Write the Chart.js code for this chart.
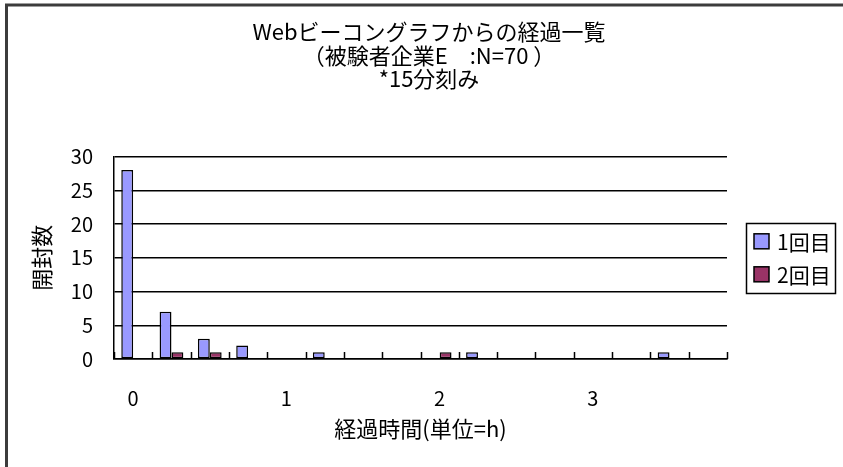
<!DOCTYPE html>
<html lang="ja">
<head>
<meta charset="utf-8">
<title>Webビーコングラフからの経過一覧</title>
<script src="https://cdn.jsdelivr.net/npm/chart.js@4"></script>
<style>
    html, body { margin: 0; padding: 0; background: #fff; }
    #wrap { width: 843px; height: 467px; position: relative; }
</style>
</head>
<body>
<div id="wrap"><canvas id="beaconChart"></canvas></div>
<script>
// elapsed time since the web beacon, 15 minute bins (hours)
var categories = ['0', '0.25', '0.5', '0.75', '1', '1.25', '1.5', '1.75',
    '2', '2.25', '2.5', '2.75', '3', '3.25', '3.5', '3.75'];
var tickLabels = ['0', '1', '2', '3'];
var firstOpen = [28, 7, 3, 2, 0, 1, 0, 0, 0, 1, 0, 0, 0, 0, 1, 0];
var secondOpen = [0, 1, 1, 0, 0, 0, 0, 0, 1, 0, 0, 0, 0, 0, 0, 0];
var seriesNames = ['1回目', '2回目'];
var yTicks = [0, 5, 10, 15, 20, 25, 30];

var FONT = "'Noto Sans CJK JP', 'Noto Sans', sans-serif";

// frame lines + tick marks pointing up into the plot
var framePlugin = {
    id: 'frame',
    beforeDraw: function (chart) {
        var ctx = chart.ctx;
        ctx.save();
        ctx.fillStyle = '#fff';
        ctx.fillRect(0, 0, chart.width, chart.height);
        ctx.strokeStyle = '#3c3c3c';
        ctx.lineWidth = 3;
        ctx.beginPath();
        ctx.moveTo(6.5, chart.height);
        ctx.lineTo(6.5, 5);
        ctx.lineTo(chart.width, 5);
        ctx.stroke();
        ctx.restore();
    },
    beforeDatasetsDraw: function (chart) {
        var xs = chart.scales.x;
        var ctx = chart.ctx;
        var step = xs.width / categories.length;
        ctx.save();
        ctx.strokeStyle = '#000';
        ctx.lineWidth = 1.5;
        ctx.beginPath();
        for (var i = 0; i <= categories.length; i++) {
            var x = Math.round(xs.left + i * step) + 0.5;
            ctx.moveTo(x, xs.top);
            ctx.lineTo(x, xs.top - 7);
        }
        ctx.stroke();
        ctx.restore();
    }
};

// boxed legend at the right of the plot
var boxLegend = {
    id: 'boxLegend',
    afterDraw: function (chart) {
        var ctx = chart.ctx;
        var area = chart.chartArea;
        var sets = chart.data.datasets;
        ctx.save();
        ctx.font = '21px ' + FONT;
        var textW = 0;
        sets.forEach(function (ds) {
            textW = Math.max(textW, ctx.measureText(ds.label).width);
        });
        var sw = 15, rowH = 33, pad = 8;
        var w = pad + sw + 8 + textW + 4;
        var h = rowH * sets.length + 4;
        var left = area.right + 19;
        var top = (area.top + area.bottom) / 2 - h / 2;
        ctx.strokeStyle = '#000';
        ctx.lineWidth = 1.5;
        ctx.strokeRect(Math.round(left) + 0.5, Math.round(top) + 0.5, Math.round(w), Math.round(h));
        sets.forEach(function (ds, i) {
            var cy = top + 2 + rowH * (i + 0.5);
            ctx.fillStyle = ds.backgroundColor;
            ctx.fillRect(left + pad, cy - sw / 2, sw, sw);
            ctx.strokeStyle = '#000';
            ctx.lineWidth = 1.5;
            ctx.strokeRect(left + pad, cy - sw / 2, sw, sw);
            ctx.fillStyle = '#000';
            ctx.textBaseline = 'middle';
            ctx.textAlign = 'left';
            ctx.fillText(ds.label, left + pad + sw + 8, cy + 1);
        });
        ctx.restore();
    }
};

new Chart(document.getElementById('beaconChart').getContext('2d'), {
    type: 'bar',
    data: {
        labels: categories,
        datasets: [{
            label: seriesNames[0],
            data: firstOpen,
            backgroundColor: '#9999FF',
            borderColor: '#000',
            borderWidth: 1.5,
            borderSkipped: false,
            categoryPercentage: 0.62,
            barPercentage: 1.0
        }, {
            label: seriesNames[1],
            data: secondOpen,
            backgroundColor: '#993366',
            borderColor: '#000',
            borderWidth: 1.5,
            borderSkipped: false,
            categoryPercentage: 0.62,
            barPercentage: 1.0
        }]
    },
    options: {
        responsive: true,
        maintainAspectRatio: false,
        animation: false,
        layout: { padding: { left: 15, right: 0, top: 0, bottom: 0 } },
        plugins: {
            legend: { display: false },
            tooltip: { enabled: false },
            title: {
                display: true,
                text: ['Webビーコングラフからの経過一覧', '（被験者企業E　:N=70 ）', '*15分刻み'],
                color: '#000',
                font: { family: FONT, size: 22, weight: 'normal', lineHeight: 1.07 },
                padding: { top: 20, bottom: 66 }
            }
        },
        scales: {
            x: {
                grid: { display: false, drawTicks: false },
                border: { display: true, color: '#000', width: 1.5 },
                afterFit: function (scale) { scale.height = 108; },
                ticks: {
                    autoSkip: false,
                    maxRotation: 0,
                    padding: 27,
                    color: '#000',
                    font: { family: FONT, size: 20 },
                    callback: function (val, i) {
                        var lab = categories[i];
                        return tickLabels.indexOf(lab) >= 0 ? lab : '';
                    }
                },
                title: {
                    display: true,
                    text: '経過時間(単位=h)',
                    color: '#000',
                    font: { family: FONT, size: 22 },
                    padding: { top: 0, bottom: 25 }
                }
            },
            y: {
                min: 0,
                max: 30,
                afterFit: function (scale) { scale.width = 99; },
                afterBuildTicks: function (scale) {
                    scale.ticks = yTicks.map(function (v) { return { value: v }; });
                },
                grid: { color: '#000', lineWidth: 1.5, drawTicks: false },
                border: { display: true, color: '#000', width: 1.5 },
                ticks: {
                    padding: 21,
                    color: '#000',
                    font: { family: FONT, size: 20 }
                },
                title: {
                    display: true,
                    text: '開封数',
                    color: '#000',
                    font: { family: FONT, size: 22 },
                    padding: { top: 13, bottom: 0 }
                }
            },
            // empty right-hand strip that leaves room for the legend box
            legendSpace: {
                type: 'linear',
                position: 'right',
                display: true,
                afterFit: function (scale) { scale.width = 116; },
                grid: { display: false, drawTicks: false },
                border: { display: false },
                ticks: { display: false }
            }
        }
    },
    plugins: [framePlugin, boxLegend]
});
</script>
</body>
</html>
